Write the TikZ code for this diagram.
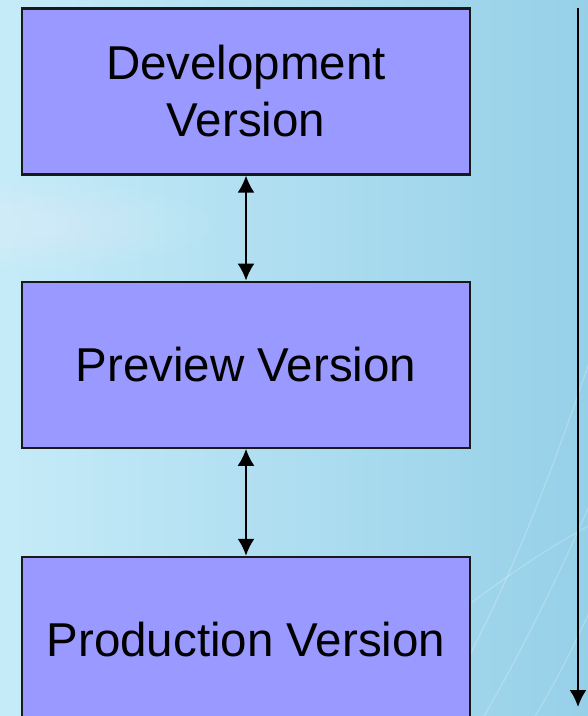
\documentclass[tikz,border=0pt]{standalone}
\usepackage{fontspec}
\setmainfont{Liberation Sans}
\usetikzlibrary{positioning,arrows.meta}

\definecolor{skyleft}{RGB}{198,235,248}
\definecolor{skyright}{RGB}{150,208,232}
\definecolor{verfill}{RGB}{153,153,255}

\begin{document}
\begin{tikzpicture}[
  x=1bp, y=-1bp, >={Latex[length=17bp,width=17bp]},
  node distance=105bp,
  ver/.style={draw=black!90, line width=2.2bp, fill=verfill, align=center,
    minimum width=448bp, minimum height=166bp, inner sep=0pt,
    font=\fontsize{47.5bp}{57bp}\selectfont},
  link/.style={<->, line width=2.2bp},
  streak/.style={white, opacity=0.22, line width=1.2bp}]
\useasboundingbox (0,0) rectangle (588,716);
\clip (0,0) rectangle (588,716);
% sky background
\shade[left color=skyleft, right color=skyright] (0,0) rectangle (588,716);
\foreach \r in {1,...,6}
  \fill[white, opacity=0.04] (40,225) ellipse ({20bp+\r*25bp} and {6bp+\r*6bp});
\draw[streak] (420,740) .. controls (500,620) and (560,450) .. (600,330);
\draw[streak] (470,740) .. controls (530,640) and (575,540) .. (600,480);
\draw[streak] (300,740) .. controls (420,640) and (520,560) .. (600,520);
\draw[streak] (520,740) .. controls (560,680) and (585,620) .. (600,590);
% version stages
\node[ver] (dev) at (246,91.5) {Development\\Version};
\node[ver, below=of dev] (prev) {Preview Version};
\node[ver, below=107bp of prev] (prod) {Production Version};
\draw[link] (dev) -- (prev);
\draw[link] (prev) -- (prod);
% time axis
\coordinate (ttop) at (578,8);
\coordinate (tend) at (578,707);
\draw[->, line width=2.2bp] (ttop) -- (tend);
\end{tikzpicture}
\end{document}
